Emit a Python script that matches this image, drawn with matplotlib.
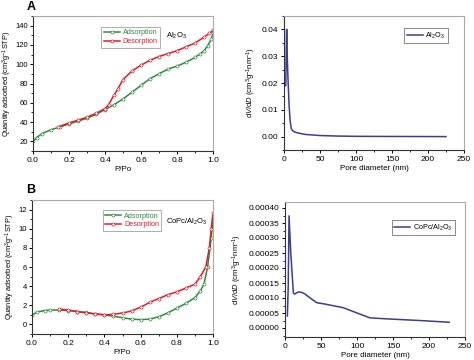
import matplotlib
matplotlib.use("Agg")
import matplotlib.pyplot as plt
from matplotlib.ticker import AutoMinorLocator

plt.rcParams['font.family'] = ['Liberation Sans', 'DejaVu Sans']
plt.rcParams['font.size'] = 6
plt.rcParams['mathtext.fontset'] = 'custom'
plt.rcParams['mathtext.rm'] = 'Liberation Sans'
plt.rcParams['mathtext.it'] = 'Liberation Sans:italic'

# Panel A (Al2O3) isotherm
a_ads_p = [0.0, 0.02, 0.05, 0.1, 0.15, 0.2, 0.25, 0.3, 0.35, 0.4, 0.45, 0.5, 0.55, 0.6, 0.65, 0.7, 0.75, 0.8, 0.85, 0.9, 0.93, 0.95, 0.97, 0.99, 1.0]
a_ads_q = [20, 24, 28, 32, 35, 38, 41, 44, 48, 53, 58, 64, 71, 78, 85, 90, 95, 98, 102, 107, 111, 114, 119, 126, 132]
a_des_p = [1.0, 0.98, 0.95, 0.9, 0.85, 0.8, 0.75, 0.7, 0.65, 0.6, 0.55, 0.5, 0.47, 0.45, 0.42, 0.4, 0.35, 0.3, 0.25, 0.2, 0.14]
a_des_q = [135, 132, 128, 122, 118, 114, 111, 108, 104, 99, 93, 84, 74, 68, 58, 54, 49, 45, 42, 39, 35]

# Panel A PSD
a_psd_d = [2.5, 3.5, 4.0, 4.5, 5.5, 7, 8.5, 10, 12, 15, 20, 30, 50, 75, 100, 150, 225]
a_psd_v = [0.019, 0.040, 0.040, 0.030, 0.022, 0.012, 0.006, 0.003, 0.0022, 0.0017, 0.0013, 0.0008, 0.0004, 0.0002, 0.0001, 0.00005, 0.0]

# Panel B (CoPc/Al2O3) isotherm
b_ads_p = [0.0, 0.03, 0.07, 0.1, 0.15, 0.2, 0.25, 0.3, 0.35, 0.4, 0.45, 0.5, 0.55, 0.6, 0.65, 0.7, 0.75, 0.8, 0.85, 0.9, 0.93, 0.95, 0.97, 0.99, 1.0]
b_ads_q = [1.0, 1.3, 1.45, 1.5, 1.5, 1.45, 1.35, 1.25, 1.1, 1.0, 0.85, 0.7, 0.55, 0.5, 0.55, 0.8, 1.2, 1.7, 2.2, 2.8, 3.5, 4.2, 6.0, 9.0, 11.0]
b_des_p = [1.0, 0.99, 0.98, 0.96, 0.93, 0.9, 0.85, 0.8, 0.75, 0.7, 0.65, 0.6, 0.55, 0.5, 0.45, 0.4, 0.35, 0.3, 0.25, 0.2, 0.15]
b_des_q = [11.6, 10.0, 8.0, 6.0, 5.0, 4.2, 3.8, 3.4, 3.1, 2.7, 2.3, 1.8, 1.4, 1.2, 1.05, 1.0, 1.1, 1.2, 1.35, 1.5, 1.6]

# Panel B PSD
b_psd_d = [3.3, 4.5, 5.6, 8, 11.6, 13, 18.6, 23, 27.9, 35, 44, 55, 81, 100, 118, 142, 188, 228]
b_psd_v = [0.00004, 0.00014, 0.000374, 0.00025, 0.000118, 0.000113, 0.00012, 0.000119, 0.000113, 0.0001, 0.0000845, 0.00008, 0.0000676, 0.00005, 0.0000338, 0.0000304, 0.0000248, 0.0000192]

green = '#2e8b3c'
red = '#e01b2a'
blue = '#3c3c96'

fig = plt.figure(figsize=(4.74, 3.60), dpi=100)
W, H = 474, 360

def add_ax(l, r, t, b):
    return fig.add_axes([l / W, 1 - b / H, (r - l) / W, (b - t) / H])

axA1 = add_ax(33, 213, 16, 151)
axA2 = add_ax(284, 464, 16, 150)
axB1 = add_ax(32, 213, 200, 334)
axB2 = add_ax(285, 465, 202, 337)

for ax in (axA1, axA2, axB1, axB2):
    for s in ('top', 'right'):
        ax.spines[s].set_color('#aaaaaa')
    for s in ('left', 'bottom'):
        ax.spines[s].set_color('#333333')
    ax.spines[:].set_linewidth(0.8)
    ax.tick_params(direction='out', length=2.5, width=0.7, labelsize=6, pad=1.5, top=False, right=False)
    ax.tick_params(which='minor', direction='out', length=1.5, width=0.6, top=False, right=False)
    ax.xaxis.set_minor_locator(AutoMinorLocator(2))
    ax.yaxis.set_minor_locator(AutoMinorLocator(2))

mk = dict(marker='o', markersize=2.2, markerfacecolor='white', markeredgewidth=0.5, linewidth=1.1)

def iso(ax, ap, aq, dp, dq, ylim, yticks, anchor):
    ax.plot(ap, aq, color=green, label='Adsorption', **mk)
    ax.plot(dp, dq, color=red, label='Desorption', **mk)
    ax.set_xlim(0, 1)
    ax.set_ylim(*ylim)
    ax.set_xticks([0.0, 0.2, 0.4, 0.6, 0.8, 1.0])
    ax.set_xticklabels(['0.0', '0.2', '0.4', '0.6', '0.8', '1.0'])
    ax.set_yticks(yticks)
    ax.tick_params(axis='y', labelsize=5.5, pad=1)
    ax.set_xlabel('P/Po', fontsize=5.8, labelpad=2)
    ax.set_ylabel('Quantity adsorbed (cm$^3$g$^{-1}$STP)', fontsize=5.3, labelpad=1)
    leg = ax.legend(loc='upper left', bbox_to_anchor=anchor, fontsize=5.2,
                    frameon=True, fancybox=False, edgecolor='#888888', handlelength=2.2,
                    handletextpad=0.4, borderpad=0.35, labelspacing=0.25, borderaxespad=0)
    leg.get_frame().set_linewidth(0.6)
    for txt, c in zip(leg.get_texts(), (green, red)):
        txt.set_color(c)
    return ax

iso(axA1, a_ads_p, a_ads_q, a_des_p, a_des_q, (10, 150), [20, 40, 60, 80, 100, 120, 140], (0.38, 0.92))
axA1.text(0.74, 0.85, 'Al$_2$O$_3$', transform=axA1.transAxes, fontsize=5.5, va='center')
iso(axB1, b_ads_p, b_ads_q, b_des_p, b_des_q, (-1, 13), [0, 2, 4, 6, 8, 10, 12], (0.39, 0.925))
axB1.text(0.74, 0.835, 'CoPc/Al$_2$O$_3$', transform=axB1.transAxes, fontsize=5.5, va='center')

def psd(ax, d, v, ylim, yticks, fmt, label, anchor):
    ax.plot(d, v, color=blue, linewidth=1.1, label=label)
    ax.set_xlim(0, 250)
    ax.set_ylim(*ylim)
    ax.set_xticks([0, 50, 100, 150, 200, 250])
    ax.set_yticks(yticks)
    ax.set_yticklabels([fmt.format(y) for y in yticks])
    ax.set_xlabel('Pore diameter (nm)', fontsize=5.8, labelpad=2)
    ax.set_ylabel('d$\\it{V}$/d$\\it{D}$ (cm$^3$g$^{-1}$nm$^{-1}$)', fontsize=5.5, labelpad=3)
    leg = ax.legend(loc='upper right', bbox_to_anchor=anchor, fontsize=5.2,
                    frameon=True, fancybox=False, edgecolor='#555555', handlelength=2.2,
                    handletextpad=0.4, borderpad=0.35, borderaxespad=0)
    leg.get_frame().set_linewidth(0.6)

psd(axA2, a_psd_d, a_psd_v, (-0.005, 0.045), [0.0, 0.01, 0.02, 0.03, 0.04], '{:.2f}', 'Al$_2$O$_3$', (0.91, 0.91))
psd(axB2, b_psd_d, b_psd_v, (-0.00003, 0.00042), [0, 0.00005, 0.0001, 0.00015, 0.0002, 0.00025, 0.0003, 0.00035, 0.0004], '{:.5f}', 'CoPc/Al$_2$O$_3$', (0.945, 0.867))

fig.text(31 / W, 1 - 7 / H, 'A', fontsize=9, fontweight='bold', va='center', ha='center')
fig.text(31 / W, 1 - 190 / H, 'B', fontsize=9, fontweight='bold', va='center', ha='center')

fig.savefig('out.png', dpi=100)
